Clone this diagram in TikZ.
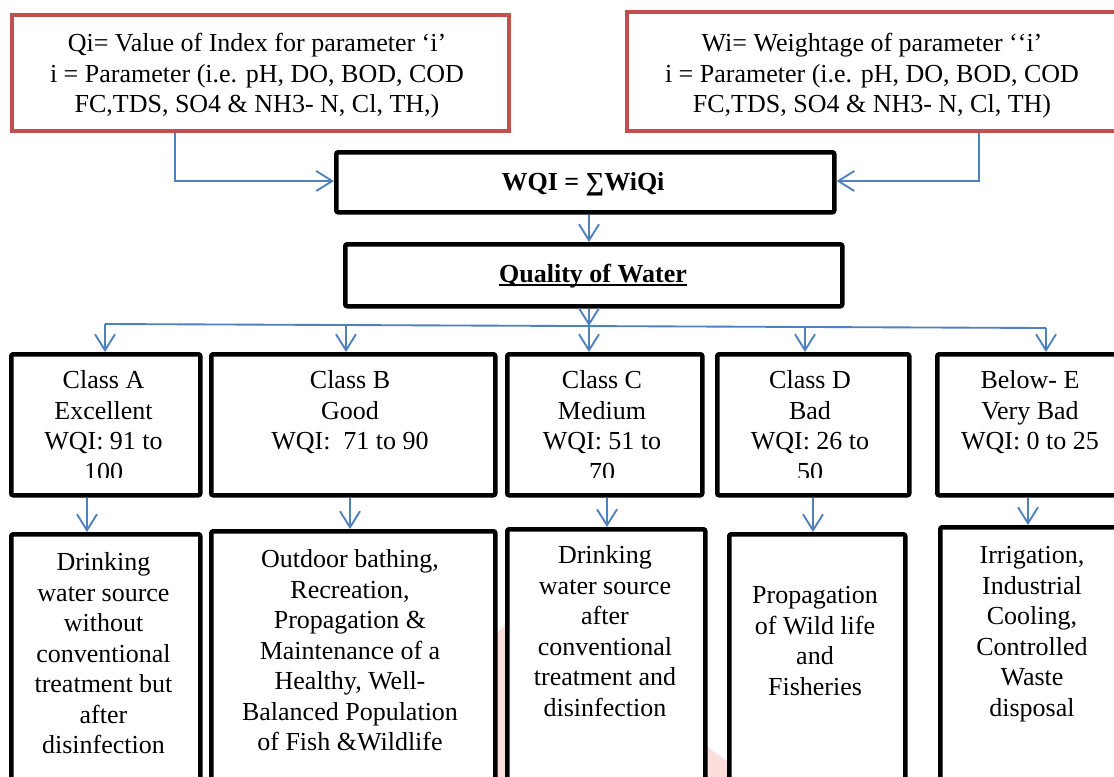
\documentclass[tikz,border=0pt]{standalone}
\usepackage{fontspec}
\setmainfont{Liberation Serif}
\usetikzlibrary{arrows.meta,calc}
\definecolor{boxred}{RGB}{192,80,77}
\definecolor{lineblue}{RGB}{79,129,189}
\definecolor{wmpink}{RGB}{251,222,218}
\newcommand\drawbox[6]{\node[#1,anchor=north west,minimum width={(#4-#2)*0.75pt},minimum height={(#5-#3)*0.75pt}] (#6) at (#2,#3) {};}
\begin{document}
\begin{tikzpicture}[x=0.75pt,y=-0.75pt,
  redbox/.style={draw=boxred,line width=3pt,fill=white,inner sep=0pt},
  blackbox/.style={draw=black,line width=3.4pt,fill=white,inner sep=0pt,rounded corners=1.5pt},
  conn/.style={draw=lineblue,line width=1.4pt},
  arr/.style={conn,-{Straight Barb[length=12pt,width=15pt]}},
  txt/.style={align=center,inner sep=0pt,font=\fontsize{19.5}{22.875}\selectfont}]
\useasboundingbox (0,0) rectangle (1114,776);
\fill[white] (0,0) rectangle (1114,776);
\clip (0,0) rectangle (1114,776);
% faint watermark
\fill[wmpink] (470,660) -- (520,610) -- (780,800) -- (470,800) -- cycle;
% boxes
\drawbox{redbox}{10}{13}{507}{129}{rl}
\drawbox{redbox}{625}{10}{1140}{129}{rr}
\drawbox{blackbox}{334}{150}{832}{210}{wqi}
\drawbox{blackbox}{343}{242}{840}{304}{qw}
\drawbox{blackbox}{9}{352}{198}{493}{ca}
\drawbox{blackbox}{209}{352}{493}{493}{cb}
\drawbox{blackbox}{505}{352}{700}{493}{cc}
\drawbox{blackbox}{715}{352}{907}{493}{cd}
\drawbox{blackbox}{935}{352}{1140}{493}{ce}
\drawbox{blackbox}{9}{532}{198}{820}{ua}
\drawbox{blackbox}{209}{529}{493}{820}{ub}
\drawbox{blackbox}{505}{527}{703}{820}{uc}
\drawbox{blackbox}{727}{532}{903}{820}{ud}
\drawbox{blackbox}{938}{525}{1140}{820}{ue}
% coordinates
\coordinate (kl) at (175,181);
\coordinate (kr) at (979,181);
\coordinate (hub) at (589,326);
\coordinate (hl) at (105,324);
\coordinate (hr) at (1046,328);
\coordinate (hb) at (346,325);
\coordinate (hd) at (805,327);
\coordinate (xa) at (87,0);
\coordinate (xb) at (350,0);
\coordinate (xc) at (607,0);
\coordinate (xd) at (813,0);
\coordinate (xe) at (1028,0);
% connectors
\draw[arr] (rl.south -| kl) -- (kl) -- (wqi.west |- kl);
\draw[arr] (rr.south -| kr) -- (kr) -- (wqi.east |- kr);
\draw[arr] (wqi.south -| hub) -- (qw.north -| hub);
\draw[arr] (qw.south -| hub) -- (hub);
\draw[conn] (hl) -- (hr);
\draw[arr] (hl) -- (ca.north -| hl);
\draw[arr] (hb) -- (cb.north -| hb);
\draw[arr] (hub) -- (cc.north -| hub);
\draw[arr] (hd) -- (cd.north -| hd);
\draw[arr] (hr) -- (ce.north -| hr);
\draw[arr] (ca.south -| xa) -- (ua.north -| xa);
\draw[arr] (cb.south -| xb) -- (ub.north -| xb);
\draw[arr] (cc.south -| xc) -- (uc.north -| xc);
\draw[arr] (cd.south -| xd) -- (ud.north -| xd);
\draw[arr] (ce.south -| xe) -- (ue.north -| xe);
% texts
\node[txt,anchor=north] (tl) at (257,30) {\strut Qi= Value of Index for parameter ‘i’\\ i = Parameter (i.e. pH, DO, BOD, COD\\ FC,TDS, SO4 \& NH3- N, Cl, TH,)};
\node[txt,anchor=north] (tr) at (872,30) {\strut Wi= Weightage of parameter ‘\kern0pt‘i’\\ i = Parameter (i.e. pH, DO, BOD, COD\\ FC,TDS, SO4 \& NH3- N, Cl, TH)};
\node[txt,anchor=base] (tw) at (583,190) {\textbf{WQI = ∑WiQi}};
\node[txt,anchor=base] (tq) at (593,282) {\textbf{Quality of Water}};
\draw[line width=1.3pt] ($(tq.base west)+(0,3)$) -- ($(tq.base east)+(0,3)$);
\begin{scope}
\clip (0,0) rectangle (1114,477);
\node[txt,anchor=north] (ta) at (103.5,367) {\strut Class A\\Excellent\\WQI: 91 to\\100};
\node[txt,anchor=north] (tb) at (350,367) {\strut Class B\\Good\\WQI:~ 71 to 90};
\node[txt,anchor=north] (tc) at (602,367) {\strut Class C\\Medium\\WQI: 51 to\\70};
\node[txt,anchor=north] (td) at (810,367) {\strut Class D\\Bad\\WQI: 26 to\\50};
\node[txt,anchor=north] (te) at (1030,367) {\strut Below- E\\Very Bad\\WQI: 0 to 25};
\end{scope}
\node[txt,anchor=north] (pa) at (103.5,549) {\strut Drinking\\water source\\without\\conventional\\treatment but\\after\\disinfection};
\node[txt,anchor=north] (pb) at (350,546) {\strut Outdoor bathing,\\Recreation,\\Propagation \&\\Maintenance of a\\Healthy, Well-\\Balanced Population\\of Fish \&Wildlife};
\node[txt,anchor=north] (pc) at (605,542) {\strut Drinking\\water source\\after\\conventional\\treatment and\\disinfection};
\node[txt,anchor=north] (pd) at (815,582) {\strut Propagation\\of Wild life\\and\\Fisheries};
\node[txt,anchor=north] (pe) at (1032,542) {\strut Irrigation,\\Industrial\\Cooling,\\Controlled\\Waste\\disposal};
\end{tikzpicture}
\end{document}
